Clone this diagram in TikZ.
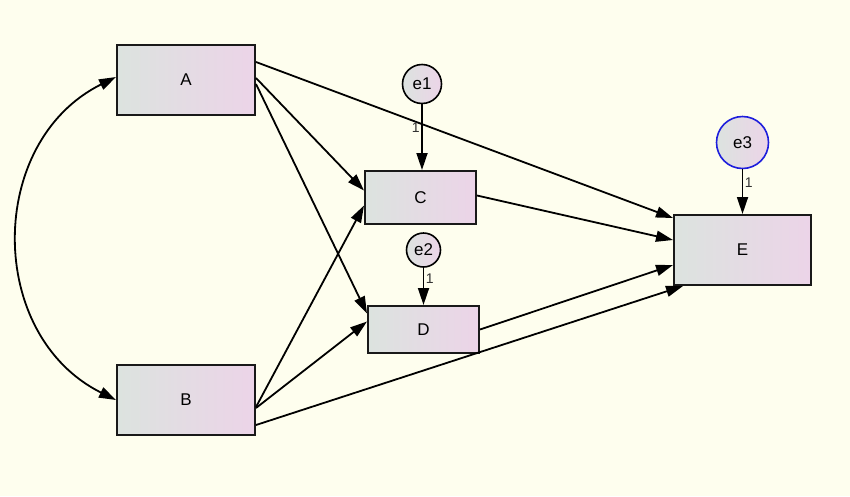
\documentclass[tikz,border=0pt]{standalone}
\usepackage{fontspec}
\setmainfont{Liberation Sans}
\usetikzlibrary{arrows.meta}
\definecolor{bg}{RGB}{254,254,238}
\definecolor{lgray}{RGB}{220,227,223}
\definecolor{lpink}{RGB}{236,212,232}
\definecolor{eblue}{RGB}{30,30,220}
\definecolor{onegray}{RGB}{50,50,50}
\tikzset{
  var/.style={draw=black!90, line width=2pt, left color=lgray, right color=lpink, shading angle=90, inner sep=0pt, font=\fontsize{17}{17}\selectfont},
  err/.style={circle, draw=black, line width=1.6pt, left color=lgray, right color=lpink, inner sep=0pt, font=\fontsize{17}{17}\selectfont},
  tip/.style={Triangle[length=17pt,width=11pt]},
  path/.style={line width=1.8pt, -{Triangle[length=17pt,width=11pt]}},
  one/.style={font=\fontsize{14}{14}\selectfont, text=onegray, inner sep=1.5pt}
}
\begin{document}
\begin{tikzpicture}[x=1pt,y=-1pt]
\fill[bg] (0,0) rectangle (850,496);
\useasboundingbox (0,0) rectangle (850,496);
\node[var, minimum width=138pt, minimum height=70pt] (A) at (186,80) {A};
\node[var, minimum width=138pt, minimum height=70pt] (B) at (186,400) {B};
\node[var, minimum width=111pt, minimum height=53pt] (C) at (420.5,197.5) {C};
\node[var, minimum width=111pt, minimum height=47pt] (D) at (423.5,329.5) {D};
\node[var, minimum width=137pt, minimum height=70pt] (E) at (742.5,250) {E};
\node[err, minimum size=39pt] (e1) at (422,84) {e1};
\node[err, minimum size=34pt] (e2) at (423.5,250) {e2};
\node[err, draw=eblue, minimum size=52pt] (e3) at (742.5,142.5) {e3};

\draw[path] ([yshift=18pt]A.east) -- ([yshift=32pt]E.west);
\draw[path] ([yshift=2pt]A.east) -- ([yshift=7pt]C.west);
\draw[path] ([yshift=-4pt]A.east) -- ([yshift=16pt]D.west);
\draw[path] ([yshift=-7pt]B.east) -- ([yshift=-8pt]C.west);
\draw[path] ([yshift=-8pt]B.east) -- ([yshift=8pt]D.west);
\draw[path] ([yshift=-25pt]B.east) -- ([xshift=10pt]E.south west);
\draw[path] ([yshift=2pt]C.east) -- ([yshift=10pt]E.west);
\draw[path] (D.east) -- ([yshift=-15pt]E.west);

\draw[path] (e1) -- (C.north -| e1) node[one, pos=0.35, left] {1};
\draw[path] (e2) -- (D.north -| e2) node[one, pos=0.3, right] {1};
\draw[path] (e3) -- (E.north -| e3) node[one, pos=0.3, right] {1};

\draw[line width=1.8pt, {Triangle[length=17pt,width=11pt]}-{Triangle[length=17pt,width=11pt]}]
  ([yshift=3pt]A.west) .. controls +(-130,64.7) and +(-130,-64.7) .. (B.west);
\end{tikzpicture}
\end{document}
